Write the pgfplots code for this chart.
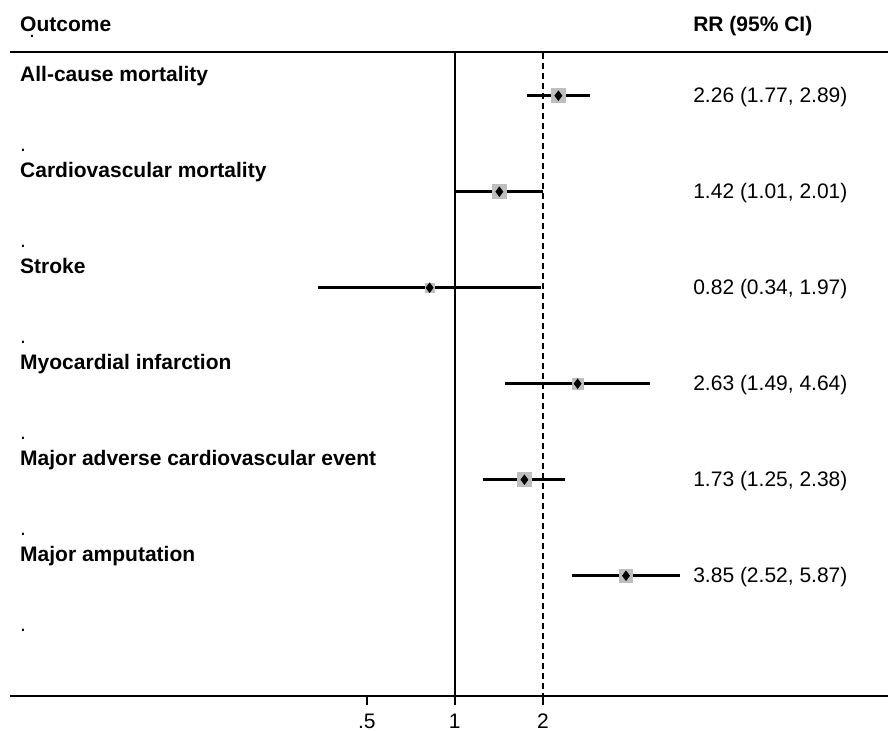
\documentclass[border=0pt]{standalone}
\usepackage{pgfplots}
\pgfplotsset{compat=1.18}
\usepackage{pgfplotstable}
\usepackage{fontspec}
\setmainfont{Liberation Sans}
\definecolor{boxgray}{RGB}{190,190,190}

\pgfplotstableread{
row rr lo hi sz
1 2.26 1.77 2.89 3.6
2 1.42 1.01 2.01 3.4
3 0.82 0.34 1.97 2.3
4 2.63 1.49 4.64 2.8
5 1.73 1.25 2.38 3.5
6 3.85 2.52 5.87 3.25
}\data

\begin{document}
\begin{tikzpicture}[font=\fontsize{10.5}{12.6}\selectfont,
  lab/.style={anchor=base west, inner sep=0, font=\fontsize{10.5}{12.6}\selectfont\bfseries},
  txt/.style={anchor=base west, inner sep=0}]
\useasboundingbox (0,0) rectangle (444pt,-365.5pt);
\begin{axis}[
  at={(5pt,-26pt)}, anchor=north west,
  scale only axis, width=439pt, height=322pt,
  xmode=log, log basis x=2,
  xmin=0.03013, xmax=30.28,
  ymin=0.545, ymax=7.253, y dir=reverse,
  axis x line*=bottom, axis y line=none,
  axis line style={line width=0.8pt, -},
  xtick={0.5,1,2}, xticklabels={.5,1,2},
  tick align=outside, major tick length=4.5pt,
  tick style={line width=0.8pt, black},
  xticklabel style={font=\fontsize{10.5}{12.6}\selectfont, anchor=base, inner sep=0pt, yshift=-11.5pt},
  clip=false,
]
% frame line at top
\draw[line width=1.2pt] (rel axis cs:0,1) -- (rel axis cs:1,1);
% reference lines
\addplot[black, line width=1pt] coordinates {(1,0.545) (1,7.253)};
\addplot[black, line width=1pt, dash pattern=on 3pt off 2pt] coordinates {(2,0.56) (2,7.253)};
% weight boxes
\addplot[only marks, mark=square*, draw=boxgray, fill=boxgray,
  mark options={draw=boxgray, fill=boxgray, line width=0pt},
  scatter, point meta=\thisrow{sz},
  scatter/use mapped color={draw=boxgray, fill=boxgray},
  visualization depends on={\thisrow{sz} \as \msize},
  scatter/@pre marker code/.append style={/tikz/mark size=\msize}]
  table[x=rr, y=row] {\data};
% confidence intervals
\addplot[black, line width=1.25pt] coordinates {(1.77,1) (2.89,1)};
\addplot[black, line width=1.25pt] coordinates {(1.01,2) (2.01,2)};
\addplot[black, line width=1.25pt] coordinates {(0.34,3) (1.97,3)};
\addplot[black, line width=1.25pt] coordinates {(1.49,4) (4.64,4)};
\addplot[black, line width=1.25pt] coordinates {(1.25,5) (2.38,5)};
\addplot[black, line width=1.25pt] coordinates {(2.52,6) (5.87,6)};
% point estimates
\addplot[only marks, mark=diamond*, mark size=2.3pt, black] table[x=rr, y=row] {\data};
% headers
\node[lab] at (axis cs:0.03256,0.334) {Outcome};
\node[txt] at (axis cs:0.03495,0.39) {.};
\node[lab] at (axis cs:6.519,0.334) {RR (95\% CI)};
% row labels
\node[lab] at (axis cs:0.03256,0.85) {All-cause mortality};
\node[lab] at (axis cs:0.03256,1.85) {Cardiovascular mortality};
\node[lab] at (axis cs:0.03256,2.85) {Stroke};
\node[lab] at (axis cs:0.03256,3.85) {Myocardial infarction};
\node[lab] at (axis cs:0.03256,4.85) {Major adverse cardiovascular event};
\node[lab] at (axis cs:0.03256,5.85) {Major amputation};
\node[txt] at (axis cs:0.03256,1.58) {.};
\node[txt] at (axis cs:0.03256,2.58) {.};
\node[txt] at (axis cs:0.03256,3.58) {.};
\node[txt] at (axis cs:0.03256,4.58) {.};
\node[txt] at (axis cs:0.03256,5.58) {.};
\node[txt] at (axis cs:0.03256,6.58) {.};
% estimates text
\node[txt] at (axis cs:6.519,1.07) {2.26 (1.77, 2.89)};
\node[txt] at (axis cs:6.519,2.07) {1.42 (1.01, 2.01)};
\node[txt] at (axis cs:6.519,3.07) {0.82 (0.34, 1.97)};
\node[txt] at (axis cs:6.519,4.07) {2.63 (1.49, 4.64)};
\node[txt] at (axis cs:6.519,5.07) {1.73 (1.25, 2.38)};
\node[txt] at (axis cs:6.519,6.07) {3.85 (2.52, 5.87)};
\end{axis}
\end{tikzpicture}
\end{document}
